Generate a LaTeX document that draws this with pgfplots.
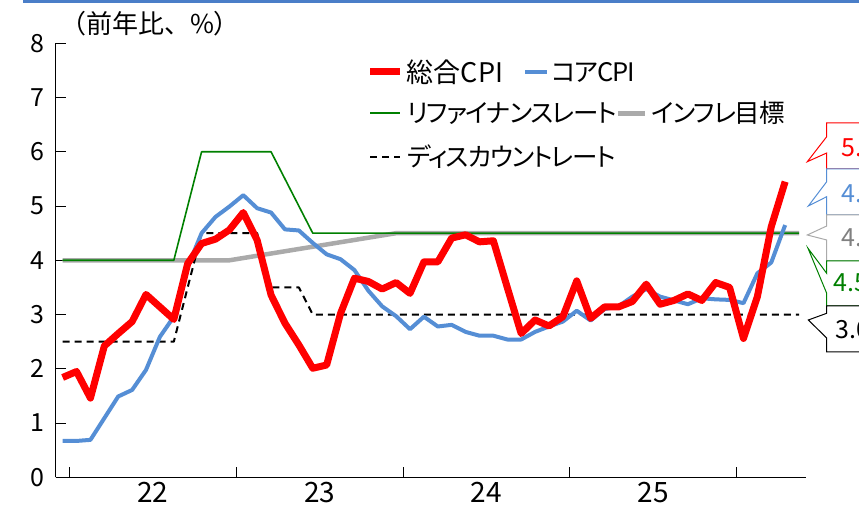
\documentclass[border=0pt]{standalone}
\usepackage{pgfplots}
\pgfplotsset{compat=1.18}
\usepackage{pgfplotstable}
\usepackage{fontspec}
\setmainfont{Noto Sans CJK JP}
\newfontfamily\jpp[RawFeature=+palt, LetterSpace=-5]{Noto Sans CJK JP}
\definecolor{cpired}{RGB}{255,0,0}
\definecolor{coreblue}{RGB}{85,142,213}
\definecolor{rfgreen}{RGB}{0,128,0}
\definecolor{tgtgray}{RGB}{170,170,170}
\definecolor{topblue}{RGB}{74,126,200}

% month index: 0 = Dec 2021
\pgfplotstableread{
i v
0 1.84
1 1.95
2 1.46
3 2.42
4 2.65
5 2.87
6 3.37
7 3.14
8 2.91
9 3.94
10 4.31
11 4.39
12 4.56
13 4.88
14 4.37
15 3.36
16 2.84
17 2.44
18 2.01
19 2.07
20 3.02
21 3.67
22 3.61
23 3.47
24 3.59
25 3.39
26 3.97
27 3.97
28 4.41
29 4.47
30 4.34
31 4.36
32 3.50
33 2.65
34 2.90
35 2.79
36 2.96
37 3.62
38 2.93
39 3.14
40 3.14
41 3.24
42 3.56
43 3.19
44 3.26
45 3.38
46 3.26
47 3.59
48 3.50
49 2.56
50 3.33
51 4.62
52 5.45
}\headline

\pgfplotstableread{
i v
0 0.67
1 0.67
2 0.69
3 1.09
4 1.49
5 1.61
6 1.98
7 2.59
8 2.96
9 3.88
10 4.50
11 4.80
12 4.99
13 5.20
14 4.96
15 4.88
16 4.57
17 4.55
18 4.32
19 4.11
20 4.02
21 3.82
22 3.44
23 3.15
24 2.97
25 2.73
26 2.96
27 2.78
28 2.81
29 2.68
30 2.61
31 2.61
32 2.54
33 2.54
34 2.68
35 2.78
36 2.87
37 3.07
38 2.89
39 3.10
40 3.15
41 3.33
42 3.47
43 3.33
44 3.26
45 3.19
46 3.30
47 3.28
48 3.27
49 3.21
50 3.76
51 3.96
52 4.65
}\core

\pgfplotstableread{
i v
0 4.0
8 4.0
10 6.0
15 6.0
18 4.5
53 4.5
}\refi

\pgfplotstableread{
i v
0 4.0
12 4.0
24 4.5
53 4.5
}\target

\pgfplotstableread{
i v
0 2.5
8 2.5
10 4.5
14 4.5
15 3.5
17 3.5
18 3.0
53 3.0
}\disc

\begin{document}
\begin{tikzpicture}[x=1pt,y=1pt]
\useasboundingbox (0,0) rectangle (859,516);
\fill[topblue] (23,512.7) rectangle (859,516);
\node[font=\fontsize{26}{28}\selectfont, inner sep=0] at (150,492) {（前年比、\%）};
\begin{axis}[
  at={(55.7pt,38.7pt)}, anchor=south west,
  scale only axis, width=750.3pt, height=434pt,
  xmin=-0.5, xmax=53.5, ymin=0, ymax=8,
  axis lines=left,
  axis line style={-, line width=1.3pt, black},
  tick align=inside, major tick length=10pt,
  tick style={line width=1pt, black},
  xtick={0.5,12.5,24.5,36.5,48.5}, xticklabels={},
  extra x ticks={6.5,18.5,30.5,42.5},
  extra x tick labels={22,23,24,25},
  extra x tick style={major tick length=0pt},
  xticklabel style={font=\fontsize{28}{30}\selectfont, yshift=-1pt},
  ytick={0,1,2,3,4,5,6,7,8},
  yticklabel style={font=\fontsize{25}{27}\selectfont, xshift=-8pt},
  /pgf/number format/assume math mode=true,
  clip=false,
  line join=round,
]
\addplot[tgtgray, line width=4.5pt, no markers] table[x=i,y=v] {\target};
\addplot[rfgreen, line width=1.6pt, no markers] table[x=i,y=v] {\refi};
\addplot[black, line width=2pt, dash pattern=on 7pt off 5pt, no markers] table[x=i,y=v] {\disc};
\addplot[coreblue, line width=4pt, no markers] table[x=i,y=v] {\core};
\addplot[cpired, line width=7pt, no markers] table[x=i,y=v] {\headline};
\end{axis}
% legend
\begin{scope}[font=\jpp\fontsize{25.5}{28}\selectfont]
\draw[cpired, line width=7pt] (370,444) -- (400,444);
\node[anchor=west, inner sep=0, font=\fontsize{27}{29}\selectfont] at (406.7,444) {総合CPI};
\draw[coreblue, line width=4pt] (525,444) -- (547,444);
\node[anchor=west, inner sep=0] at (551.7,444) {コアCPI};
\draw[rfgreen, line width=1.6pt] (370,402.7) -- (400,402.7);
\node[anchor=west, inner sep=0] at (406.7,402.7) {リファイナンスレート};
\draw[tgtgray, line width=4.5pt] (618.3,402.7) -- (645,402.7);
\node[anchor=west, inner sep=0] at (651.7,402.7) {インフレ目標};
\draw[black, line width=2pt, dash pattern=on 7pt off 5pt] (370,359.3) -- (400,359.3);
\node[anchor=west, inner sep=0] at (406.7,359.3) {ディスカウントレート};
\end{scope}
% callouts
\begin{scope}[line width=1pt, font=\fontsize{25}{27}\selectfont]
\filldraw[draw=cpired, fill=white] (900,393) -- (826.7,393) -- (826.7,379.3) -- (807.3,354.3) -- (826.7,363) -- (826.7,347) -- (900,347);
\node[anchor=west, inner sep=0, text=cpired] at (841,368) {5.5};
\filldraw[draw=coreblue, fill=white] (900,347) -- (826.7,347) -- (826.7,334.3) -- (808.3,310) -- (826.7,319.3) -- (826.7,301) -- (900,301);
\node[anchor=west, inner sep=0, text=coreblue] at (841,322) {4.6};
\filldraw[draw=tgtgray, fill=white] (900,301) -- (826.7,301) -- (826.7,290) -- (807.3,281) -- (826.7,276) -- (826.7,255) -- (900,255);
\node[anchor=west, inner sep=0, text=gray] at (841,278) {4.5};
\filldraw[draw=rfgreen, fill=white] (900,255) -- (826.7,255) -- (826.7,242.7) -- (808,267.7) -- (826.7,222.7) -- (826.7,210) -- (900,210);
\node[anchor=west, inner sep=0, text=rfgreen] at (833,233) {4.5};
\filldraw[draw=black, fill=white] (900,210) -- (826.7,210) -- (826.7,202.7) -- (808.3,196) -- (826.7,178) -- (826.7,164) -- (900,164);
\node[anchor=west, inner sep=0, text=black] at (835,186) {3.0};
\end{scope}
\end{tikzpicture}
\end{document}
